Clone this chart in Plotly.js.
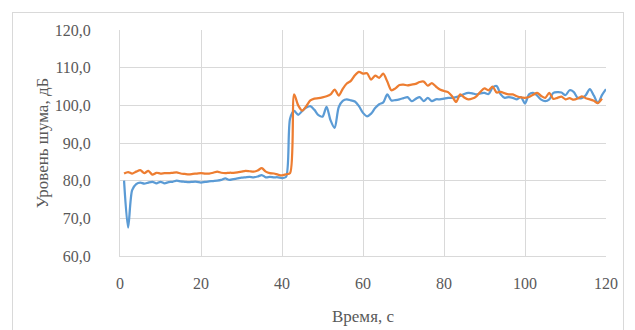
<!DOCTYPE html>
<html>
<head>
<meta charset="utf-8">
<script src="https://cdn.plot.ly/plotly-3.0.1.min.js"></script>
<style>
html,body{margin:0;padding:0;background:#fff;overflow:hidden;}
#wrap{position:relative;width:635px;height:330px;overflow:hidden;}
#chart{position:absolute;left:0;top:0;width:635px;height:330px;}
#frame{position:absolute;left:12px;top:12px;width:610px;height:340px;border:1px solid #D9D9D9;pointer-events:none;}
</style>
</head>
<body>
<div id="wrap"><div id="chart"></div><div id="frame"></div></div>
<script>
// time, s
const timeBlue = [];
for (let i = 1; i <= 120; i++) timeBlue.push(i);
const timeOrange = timeBlue.slice(0, 119);

const blueValues = [
  80.0, 67.5, 77.5, 79.1, 79.5, 79.2, 79.5, 79.7, 79.3, 79.7,
  79.3, 79.6, 79.7, 80.0, 79.8, 79.7, 79.6, 79.7, 79.7, 79.5,
  79.7, 79.8, 79.9, 80.0, 80.2, 80.6, 80.2, 80.4, 80.6, 80.8,
  80.9, 81.0, 80.9, 81.1, 81.5, 80.9, 81.0, 80.9, 80.9, 80.7,
  81.0, 96.5, 98.5, 97.5, 98.5, 99.4, 99.8, 98.8, 97.4, 97.0,
  99.6, 96.0, 94.0, 99.5, 101.2, 101.6, 101.3, 101.0, 99.8, 98.0,
  97.1, 97.8, 99.3, 100.3, 100.8, 102.9, 101.3, 101.4, 101.6, 101.9,
  102.2, 101.1, 101.7, 102.2, 101.1, 102.0, 101.1, 101.6, 101.6, 101.8,
  102.0, 102.0, 102.2, 102.5, 103.0, 103.3, 103.2, 102.9, 103.2, 103.3,
  103.0, 104.7, 105.1, 102.9, 102.0, 102.2, 102.0, 101.6, 102.2, 100.5,
  102.9, 103.3, 102.6, 101.5, 101.1, 101.6, 103.3, 103.5, 103.4, 102.7,
  104.0, 103.6, 102.0, 101.9, 102.7, 104.3, 102.6, 100.6, 102.7, 104.3
];

const orangeValues = [
  81.9, 82.3, 81.9, 82.4, 82.8, 82.0, 82.6, 81.6, 82.1, 81.9,
  82.0, 82.0, 82.1, 82.2, 81.9, 81.8, 81.7, 81.8, 81.9, 82.0,
  81.9, 81.9, 82.1, 82.4, 82.1, 82.0, 82.1, 82.1, 82.2, 82.4,
  82.6, 82.5, 82.4, 82.7, 83.3, 82.4, 82.0, 81.9, 81.6, 81.4,
  81.7, 82.0, 102.9, 100.0, 98.6, 99.8, 101.3, 101.8, 101.9, 102.1,
  102.4, 102.9, 104.2, 102.6, 104.4, 105.8, 106.5, 108.0, 108.9, 108.4,
  108.5, 106.8, 107.9, 107.3, 108.4, 106.3, 104.0, 104.5, 105.4, 105.5,
  105.3, 105.5, 105.7, 106.2, 106.3, 105.2, 105.9, 105.0, 104.2, 103.8,
  103.5, 102.4, 100.9, 102.9, 102.1, 101.6, 101.8, 102.4, 103.6, 104.5,
  104.0, 105.0, 103.4, 103.6, 103.2, 102.9, 102.9, 102.4, 102.1, 102.0,
  102.2, 102.8, 103.3, 102.5, 102.0, 103.3, 101.7, 102.0, 102.3, 101.6,
  101.9, 101.5, 101.8, 102.4, 101.9, 101.6, 101.2, 100.6, 101.8
];

const xTickVals = [0, 20, 40, 60, 80, 100, 120];
const yTickVals = [60, 70, 80, 90, 100, 110, 120];

const traces = [
  {x: timeBlue, y: blueValues, type: 'scatter', mode: 'lines',
   line: {color: '#5B9BD5', width: 2.25, shape: 'spline', smoothing: 0.8}, hoverinfo: 'x+y'},
  {x: timeOrange, y: orangeValues, type: 'scatter', mode: 'lines',
   line: {color: '#ED7D31', width: 2.25, shape: 'spline', smoothing: 0.8}, hoverinfo: 'x+y'}
];

const fontFam = 'Liberation Serif, Times New Roman, serif';
const layout = {
  width: 635, height: 330,
  margin: {l: 120, r: 29, t: 30, b: 74},
  paper_bgcolor: 'rgba(0,0,0,0)', plot_bgcolor: '#fff',
  showlegend: false,
  separators: ', ',
  font: {family: fontFam, color: '#595959', size: 16},
  xaxis: {
    range: [0, 120], tickvals: xTickVals, ticktext: xTickVals.map(String),
    showgrid: true, gridcolor: '#D9D9D9', gridwidth: 1,
    showline: true, linecolor: '#D9D9D9', linewidth: 1,
    zeroline: false, ticks: '', ticklabelstandoff: 13,
    tickfont: {family: fontFam, size: 16, color: '#595959'},
    title: {text: 'Время, с', font: {family: fontFam, size: 17, color: '#595959'}, standoff: 18}
  },
  yaxis: {
    range: [60, 120], tickvals: yTickVals, tickformat: '.1f',
    showgrid: true, gridcolor: '#D9D9D9', gridwidth: 1,
    showline: true, linecolor: '#D9D9D9', linewidth: 1,
    zeroline: false, ticks: '', ticklabelstandoff: 25,
    tickfont: {family: fontFam, size: 16, color: '#595959'},
    title: {text: 'Уровень шума, дБ', font: {family: fontFam, size: 17, color: '#595959'}, standoff: 1}
  }
};

Plotly.newPlot('chart', traces, layout, {staticPlot: true, displayModeBar: false});
</script>
</body>
</html>
